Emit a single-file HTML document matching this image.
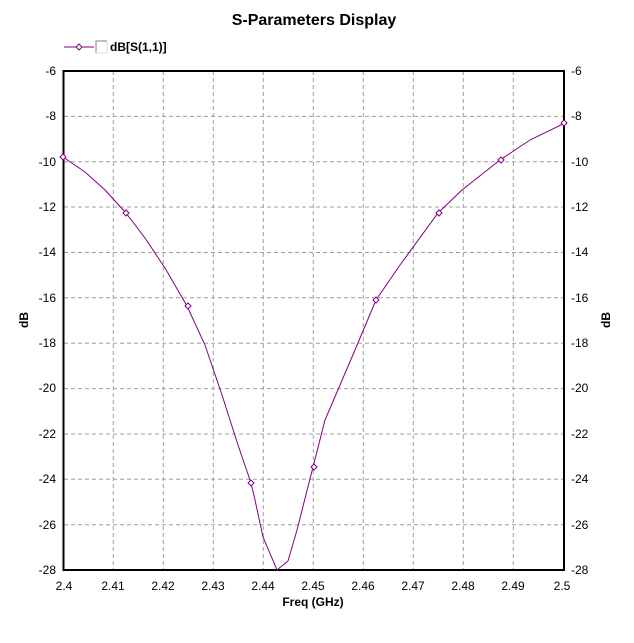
<!DOCTYPE html>
<html><head><style>
body{margin:0;background:#fff;}
svg text{font-family:"Liberation Sans",sans-serif;font-size:12px;fill:#000;}
</style></head><body>
<svg width="634" height="638" xmlns="http://www.w3.org/2000/svg">
<rect width="634" height="638" fill="#fff"/>
<text x="314" y="25" text-anchor="middle" style="font-size:16px;font-weight:bold">S-Parameters Display</text>
<line x1="64" y1="47" x2="94" y2="47" stroke="#800080"/>
<path d="M79,44 L82,47 L79,50 L76,47Z" fill="#fff" stroke="#800080"/>
<path d="M96,53 V41 H107" fill="none" stroke="#808080"/>
<path d="M96,53 H107 V41" fill="none" stroke="#ddd"/>
<text x="110" y="51" style="font-weight:bold">dB[S(1,1)]</text>
<g stroke="#a0a0a0" stroke-dasharray="4,3">
<line x1="113.3" y1="71" x2="113.3" y2="570"/><line x1="163.3" y1="71" x2="163.3" y2="570"/><line x1="213.3" y1="71" x2="213.3" y2="570"/><line x1="263.3" y1="71" x2="263.3" y2="570"/><line x1="313.3" y1="71" x2="313.3" y2="570"/><line x1="363.3" y1="71" x2="363.3" y2="570"/><line x1="413.3" y1="71" x2="413.3" y2="570"/><line x1="463.3" y1="71" x2="463.3" y2="570"/><line x1="513.3" y1="71" x2="513.3" y2="570"/>
<line x1="64" y1="116.4" x2="564" y2="116.4"/><line x1="64" y1="161.7" x2="564" y2="161.7"/><line x1="64" y1="207" x2="564" y2="207"/><line x1="64" y1="252.5" x2="564" y2="252.5"/><line x1="64" y1="297.8" x2="564" y2="297.8"/><line x1="64" y1="343.2" x2="564" y2="343.2"/><line x1="64" y1="388.6" x2="564" y2="388.6"/><line x1="64" y1="434" x2="564" y2="434"/><line x1="64" y1="479.3" x2="564" y2="479.3"/><line x1="64" y1="524.7" x2="564" y2="524.7"/>
</g>
<rect x="63.5" y="71" width="500.5" height="499" fill="none" stroke="#000" stroke-width="2"/>
<g text-anchor="end">
<text x="56" y="75">-6</text><text x="56" y="120">-8</text><text x="56" y="166">-10</text><text x="56" y="211">-12</text><text x="56" y="256">-14</text><text x="56" y="302">-16</text><text x="56" y="347">-18</text><text x="56" y="392">-20</text><text x="56" y="438">-22</text><text x="56" y="483">-24</text><text x="56" y="529">-26</text><text x="56" y="574">-28</text>
</g>
<g>
<text x="571" y="75">-6</text><text x="571" y="120">-8</text><text x="571" y="166">-10</text><text x="571" y="211">-12</text><text x="571" y="256">-14</text><text x="571" y="302">-16</text><text x="571" y="347">-18</text><text x="571" y="392">-20</text><text x="571" y="438">-22</text><text x="571" y="483">-24</text><text x="571" y="529">-26</text><text x="571" y="574">-28</text>
</g>
<g text-anchor="middle">
<text x="64" y="590">2.4</text><text x="113" y="590">2.41</text><text x="163" y="590">2.42</text><text x="213" y="590">2.43</text><text x="263" y="590">2.44</text><text x="313" y="590">2.45</text><text x="363" y="590">2.46</text><text x="413" y="590">2.47</text><text x="463" y="590">2.48</text><text x="513" y="590">2.49</text><text x="562" y="590">2.5</text>
<text x="313" y="606" style="font-weight:bold">Freq (GHz)</text>
</g>
<text transform="translate(28,320) rotate(-90)" text-anchor="middle" style="font-weight:bold">dB</text>
<text transform="translate(610,320) rotate(-90)" text-anchor="middle" style="font-weight:bold">dB</text>
<polyline fill="none" stroke="#800080" points="63,157 85,172 105,190 126,213 145,238 165,268 187,306 205,345 222,395 238,445 251,483 255,500 263,537 277,570 288,561 297,530 313,467 325,420 340,385 355,350 376,300 400,265 438,213 462,190 500,160 530,140 565,123"/>
<g fill="#fff" stroke="#800080">
<path d="M63,154 l3,3 l-3,3 l-3,-3z"/><path d="M126,210 l3,3 l-3,3 l-3,-3z"/><path d="M188,303 l3,3 l-3,3 l-3,-3z"/><path d="M251,480 l3,3 l-3,3 l-3,-3z"/><path d="M314,464 l3,3 l-3,3 l-3,-3z"/><path d="M376,297 l3,3 l-3,3 l-3,-3z"/><path d="M439,210 l3,3 l-3,3 l-3,-3z"/><path d="M501,157 l3,3 l-3,3 l-3,-3z"/><path d="M564,120 l3,3 l-3,3 l-3,-3z"/>
</g>
</svg>
</body></html>
